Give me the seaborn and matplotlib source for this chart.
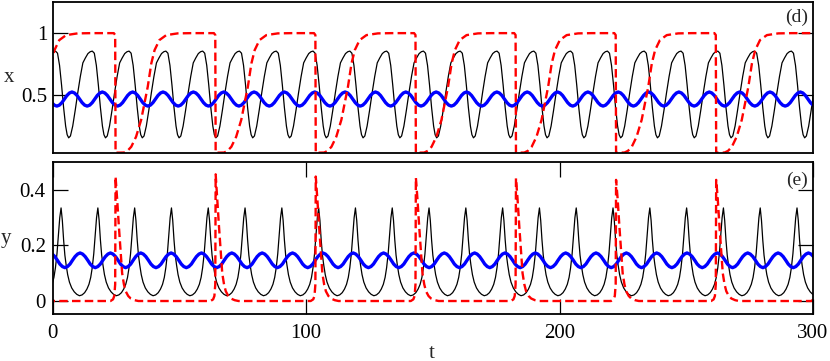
import numpy as np
import pandas as pd
import matplotlib
matplotlib.use("Agg")
import matplotlib.pyplot as plt
import seaborn as sns

t_max = 300

black_period = 14.52
x_black_first_peak = 1.1
x_black_phase = [0.0, 0.8, 1.6, 2.4, 3.2, 4.0, 4.6, 5.2, 5.9, 6.8, 7.8, 8.8, 9.8, 10.8, 11.8, 12.8, 13.7]
x_black_vals = [0.855, 0.838, 0.74, 0.58, 0.40, 0.25, 0.18, 0.155, 0.17, 0.25, 0.38, 0.52, 0.65, 0.76, 0.80, 0.835, 0.85]

y_black_first_peak = 3.3
y_black_phase = [0.0, 0.5, 1.0, 1.5, 2.0, 2.6, 3.3, 4.2, 5.2, 6.2, 7.26, 8.3, 9.3, 10.2, 11.0, 11.7, 12.3, 12.9, 13.5, 14.0]
y_black_vals = [0.335, 0.29, 0.22, 0.165, 0.13, 0.095, 0.068, 0.047, 0.033, 0.024, 0.019, 0.022, 0.03, 0.043,
                0.06, 0.085, 0.12, 0.17, 0.24, 0.30]

# blue curve
blue_period = 11.975
x_blue_first_peak = 7.6
y_blue_first_peak = 10.8
blue_phase = [0.0, 1.0, 2.0, 3.0, 4.0, 5.0, 6.0, 7.0, 8.0, 9.0, 10.0, 11.0]
x_blue_vals = [0.525, 0.517, 0.497, 0.468, 0.439, 0.419, 0.411, 0.419, 0.439, 0.468, 0.497, 0.517]
y_blue_vals = [0.173, 0.169, 0.160, 0.147, 0.133, 0.124, 0.120, 0.124, 0.133, 0.147, 0.160, 0.169]

# red dashed curve (phase measured from the drop)
red_period = 39.5
red_first_drop = 24.8
x_red_phase = [0.0, 3.3, 4.7, 6.2, 8.1, 10.1, 11.4, 12.7, 14.1, 15.4, 17.3, 20.0, 24.5, 30.0, 38.8, 39.35]
x_red_vals = [0.035, 0.036, 0.05, 0.083, 0.164, 0.30, 0.433, 0.567, 0.755, 0.863, 0.944, 0.984, 0.998, 1.0, 1.0, 0.985]
y_red_phase = [-2.0, -1.0, -0.5, -0.15, 0.0, 0.6, 1.3, 2.0, 2.6, 3.3, 4.0, 5.0, 6.0, 7.5, 9.0, 37.5]
y_red_vals = [0.0, 0.006, 0.018, 0.06, 0.45, 0.37, 0.27, 0.178, 0.10, 0.06, 0.035, 0.018, 0.009, 0.003, 0.0, 0.0]
y_red_spikes = [0.448, 0.456, 0.448, 0.444, 0.442, 0.436, 0.436]


def repeat_cycle(phase, vals, first, period, spikes=None, spike_idx=None):
    ts, vs = [], []
    k = -1
    while first + k * period + phase[0] <= t_max:
        t0 = first + k * period
        cyc = list(vals)
        if spikes is not None and 0 <= k < len(spikes):
            cyc[spike_idx] = spikes[k]
        ts += [t0 + p for p in phase]
        vs += cyc
        k += 1
    return pd.DataFrame({"t": ts, "v": vs})


sns.set_style("ticks")
plt.rcParams["font.family"] = ["Liberation Serif", "DejaVu Serif"]

fig = plt.figure(figsize=(8.3, 3.61), dpi=100)
ax1 = fig.add_axes([0.0635, 0.576, 0.916, 0.418])
ax2 = fig.add_axes([0.0635, 0.130, 0.916, 0.421])

panels = [
    (ax1, x_black_phase, x_black_vals, x_black_first_peak, x_blue_vals, x_blue_first_peak, x_red_phase, x_red_vals, None),
    (ax2, y_black_phase, y_black_vals, y_black_first_peak, y_blue_vals, y_blue_first_peak, y_red_phase, y_red_vals, y_red_spikes),
]
for ax, bph, bv, bfirst, blv, blfirst, rph, rv, spikes in panels:
    black = repeat_cycle(bph, bv, bfirst, black_period)
    blue = repeat_cycle(blue_phase, blv, blfirst, blue_period)
    red = repeat_cycle(rph, rv, red_first_drop, red_period, spikes, 4)
    sns.lineplot(data=black, x="t", y="v", ax=ax, color="black", lw=0.9, sort=False, estimator=None)
    sns.lineplot(data=blue, x="t", y="v", ax=ax, color="#0000ff", lw=2.4, sort=False, estimator=None)
    sns.lineplot(data=red, x="t", y="v", ax=ax, color="#ff0000", lw=1.7, sort=False, estimator=None,
                 linestyle=(0, (3.6, 1.8)))
    ax.set_xlim(0, t_max)
    for s in ax.spines.values():
        s.set_linewidth(1.3)
        s.set_color("black")
    ax.tick_params(direction="in", length=10.5, width=0.9, labelsize=15, colors="black")

# panel (d)
ax1.set_ylim(0.032, 1.25)
ax1.set_yticks([0.5, 1])
ax1.set_yticklabels(["0.5", "1"])
ax1.set_xticks([])
ax1.tick_params(axis="y", right=True, pad=3.5)
ax1.set_xlabel("")
ax1.set_ylabel("x", rotation=0, fontsize=15, ha="center", va="center")
ax1.yaxis.set_label_coords(-0.057, 0.5)
ax1.text(0.9934, 0.90, "(d)", transform=ax1.transAxes, ha="right", va="center", fontsize=14)

# panel (e)
ax2.set_ylim(-0.047, 0.5)
ax2.set_yticks([0, 0.2, 0.4])
ax2.set_yticklabels(["0", "0.2", "0.4"])
ax2.set_xticks([0, 100, 200, 300])
ax2.set_xticklabels(["0", "100", "200", "300"])
ax2.tick_params(axis="y", right=True, pad=5)
ax2.tick_params(axis="x", top=True, pad=7)
ax2.set_ylabel("y", rotation=0, fontsize=15, ha="center", va="center")
ax2.yaxis.set_label_coords(-0.061, 0.5)
ax2.set_xlabel("t", fontsize=15, va="center")
ax2.xaxis.set_label_coords(0.499, -0.257)
ax2.text(0.9934, 0.88, "(e)", transform=ax2.transAxes, ha="right", va="center", fontsize=14)

fig.savefig("out.png", dpi=100)
